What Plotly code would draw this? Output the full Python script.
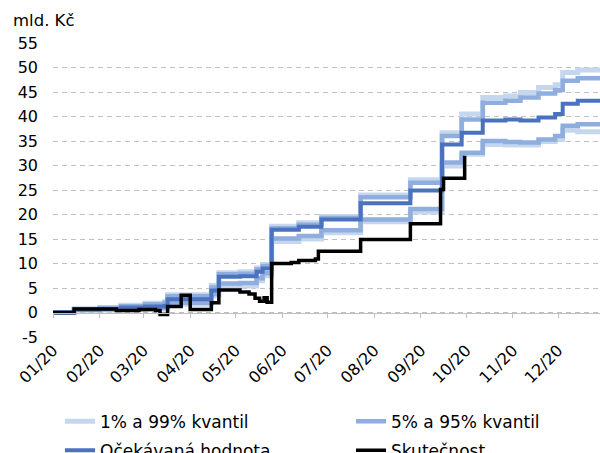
import plotly.graph_objects as go

# --- data (mld. Kč), step series ---
model_dates = [
    "2020-01-01", "2020-01-15", "2020-02-01", "2020-02-15", "2020-03-02",
    "2020-03-15", "2020-03-17", "2020-04-15", "2020-04-20", "2020-05-04",
    "2020-05-15", "2020-05-19", "2020-05-25", "2020-06-12", "2020-06-27",
    "2020-07-23", "2020-08-25", "2020-09-15", "2020-09-28", "2020-10-12",
    "2020-10-27", "2020-11-06", "2020-11-18", "2020-11-29", "2020-12-04",
    "2020-12-14", "2020-12-31",
]
q01 = [0, 0.5, 0.5, 0.6, 0.7, 0.8, 1.7, 3.4, 5.3, 5.4, 6.5, 7.5, 14.5, 15.0,
       16.3, 18.5, 20.5, 29.9, 32.3, 34.3, 34.2, 34.2, 34.9, 35.3, 37.2, 36.9, 36.9]
q05 = [0, 0.5, 0.6, 0.7, 0.9, 1.0, 2.0, 3.8, 5.9, 6.0, 7.0, 8.0, 15.1, 15.6,
       16.8, 19.0, 21.1, 30.6, 32.6, 35.0, 34.8, 34.7, 35.3, 36.0, 38.1, 38.4, 38.4]
mean = [0, 0.6, 0.7, 1.0, 1.2, 1.4, 2.7, 4.5, 7.3, 7.4, 8.3, 9.0, 16.9, 17.5,
        19.0, 22.3, 24.9, 34.3, 36.7, 39.2, 39.4, 39.2, 39.8, 40.5, 42.6, 43.2, 43.2]
q95 = [0, 0.7, 0.9, 1.3, 1.7, 2.0, 3.3, 5.1, 7.8, 7.9, 8.8, 9.5, 17.2, 17.9,
       19.3, 23.5, 26.5, 36.0, 39.4, 42.8, 43.2, 43.9, 44.7, 45.4, 47.3, 47.8, 47.8]
q99 = [0, 0.7, 1.0, 1.5, 1.9, 2.2, 3.6, 5.5, 8.1, 8.3, 9.1, 9.8, 17.6, 18.3,
       19.6, 24.0, 27.1, 36.7, 40.5, 43.9, 44.2, 44.9, 45.9, 46.5, 49.0, 49.5, 49.7]

actual_dates = [
    "2020-01-01", "2020-01-15", "2020-02-12", "2020-02-27", "2020-03-09",
    "2020-03-12", "2020-03-17", "2020-03-26", "2020-04-01", "2020-04-15",
    "2020-04-20", "2020-05-04", "2020-05-10", "2020-05-14", "2020-05-17",
    "2020-05-20", "2020-05-22", "2020-05-25", "2020-06-07", "2020-06-12",
    "2020-06-23", "2020-06-25", "2020-07-23", "2020-08-25", "2020-09-14",
    "2020-09-16", "2020-09-30",
]
actual = [0, 0.7, 0.4, 0.6, 0.4, -0.4, 1.2, 3.5, 0.6, 2.0, 4.6, 4.2, 3.8, 2.9,
          2.3, 3.0, 2.1, 10.0, 10.2, 10.6, 10.9, 12.5, 14.9, 18.1, 25.1, 27.4, 32.0]

month_ticks = [f"2020-{m:02d}-01" for m in range(1, 13)]
month_labels = [f"{m:02d}/20" for m in range(1, 13)]
y_ticks = list(range(-5, 56, 5))
y_labels = [str(v) for v in y_ticks]

LIGHT = "#c5d7ef"
MID = "#8faedd"
DARK = "#4a72be"
FONT = "DejaVu Sans, Verdana, sans-serif"
X_RANGE = ["2020-01-01", "2020-12-28 18:00"]

fig = go.Figure()
fig.add_trace(go.Scatter(x=model_dates, y=q01, mode="lines", line_shape="hv",
                         line=dict(color=LIGHT, width=5), legendgroup="kv1",
                         name="1% a 99% kvantil", legend="legend"))
fig.add_trace(go.Scatter(x=model_dates, y=q99, mode="lines", line_shape="hv",
                         line=dict(color=LIGHT, width=5), legendgroup="kv1",
                         name="99% kvantil", showlegend=False, legend="legend"))
fig.add_trace(go.Scatter(x=model_dates, y=q05, mode="lines", line_shape="hv",
                         line=dict(color=MID, width=4.5), legendgroup="kv5",
                         name="5% a 95% kvantil", legend="legend2"))
fig.add_trace(go.Scatter(x=model_dates, y=q95, mode="lines", line_shape="hv",
                         line=dict(color=MID, width=4.5), legendgroup="kv5",
                         name="95% kvantil", showlegend=False, legend="legend2"))
fig.add_trace(go.Scatter(x=model_dates, y=mean, mode="lines", line_shape="hv",
                         line=dict(color=DARK, width=4), legendgroup="mean",
                         name="Očekávaná hodnota", legend="legend"))
fig.add_trace(go.Scatter(x=actual_dates, y=actual, mode="lines", line_shape="hv",
                         line=dict(color="#000000", width=3.5), legendgroup="act",
                         name="Skutečnost", legend="legend2"))
# empty trace so the axis drawn at y = 0 exists
fig.add_trace(go.Scatter(x=[], y=[], xaxis="x2", showlegend=False, hoverinfo="skip"))

y_min, y_max = -5, 55
legend_common = dict(
    orientation="v", xref="container", yref="container", xanchor="left",
    yanchor="top", y=0.109, traceorder="grouped", tracegroupgap=4,
    bgcolor="rgba(0,0,0,0)", font=dict(family=FONT, size=17, color="#000"),
)

fig.update_layout(
    width=600, height=453,
    margin=dict(l=53, r=0, t=43, b=116, autoexpand=False),
    plot_bgcolor="#FFFFFF", paper_bgcolor="#FFFFFF",
    font=dict(family=FONT, size=16, color="#000"),
    xaxis=dict(type="date", range=X_RANGE, tickvals=month_ticks, ticktext=month_labels,
               tickangle=-45, showgrid=False, showline=False, ticks="",
               zeroline=False, tickfont=dict(size=16), automargin=False),
    xaxis2=dict(type="date", range=X_RANGE, overlaying="x", anchor="free",
                position=(0 - y_min) / (y_max - y_min), tickvals=month_ticks,
                showticklabels=False, showgrid=False, showline=True,
                linecolor="#bfbfbf", linewidth=1, ticks="outside", ticklen=4,
                tickcolor="#bfbfbf", tickwidth=1, automargin=False),
    yaxis=dict(range=[y_min, y_max], tickvals=y_ticks, ticktext=y_labels,
               showgrid=True, gridcolor="#c0c0c0",
               gridwidth=1.3, griddash="5px,4px", zeroline=False, showline=False,
               ticks="", ticklabelstandoff=14, tickfont=dict(size=16), automargin=False),
    legend=dict(x=0.1, **legend_common),
    legend2=dict(x=0.585, **legend_common),
    annotations=[dict(text="mld. Kč", xref="paper", yref="paper", x=-0.077, y=1.078,
                      xanchor="left", yanchor="middle", showarrow=False,
                      font=dict(family=FONT, size=16.5, color="#000"))],
)

# page body margin off, so the 600x453 figure fills the window exactly
fig.write_html("out.html", config={"displayModeBar": False},
               post_script="document.body.style.margin='0';")
